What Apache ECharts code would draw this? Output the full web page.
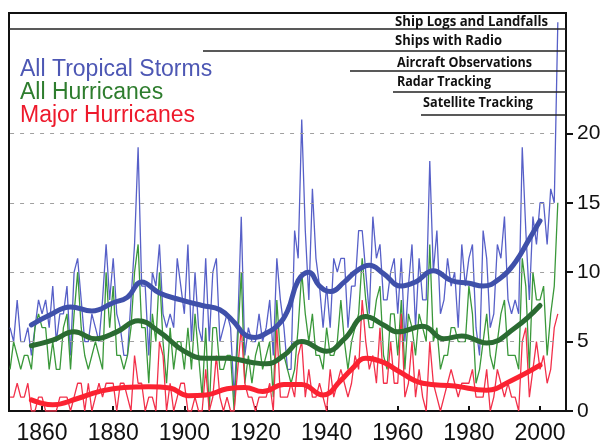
<!DOCTYPE html>
<html>
<head>
<meta charset="utf-8">
<script src="https://cdn.jsdelivr.net/npm/echarts@6/dist/echarts.min.js"></script>
<style>
  html, body { margin: 0; padding: 0; background: #fff; }
  #chart { width: 605px; height: 445px; }
</style>
</head>
<body>
<div id="chart"></div>
<script>
  // yearly counts, 1851 .. 2005
  var firstYear = 1851;
  var tropicalStorms = [
    6, 5, 8, 5, 5, 6, 4, 6, 8, 7,        // 1851-1860
    8, 6, 9, 5, 7, 7, 9, 4, 10, 11,      // 1861-1870
    8, 5, 5, 7, 6, 5, 8, 12, 8, 11,      // 1871-1880
    7, 6, 4, 4, 8, 12, 19, 9, 9, 4,      // 1881-1890
    10, 9, 12, 7, 6, 7, 6, 11, 9, 7,     // 1891-1900
    12, 5, 10, 6, 5, 11, 5, 10, 11, 5,   // 1901-1910
    6, 7, 6, 1, 6, 14, 4, 6, 5, 5,       // 1911-1920
    7, 5, 6, 8, 4, 11, 8, 6, 3, 3,       // 1921-1930
    13, 11, 21, 13, 8, 16, 11, 9, 6, 9,  // 1931-1940
    6, 11, 10, 11, 11, 6, 9, 9, 13, 13,  // 1941-1950
    10, 7, 14, 11, 12, 8, 8, 10, 11, 7,  // 1951-1960
    11, 5, 9, 12, 6, 11, 8, 8, 18, 10,   // 1961-1970
    13, 7, 8, 11, 9, 10, 6, 12, 9, 11,   // 1971-1980
    12, 6, 4, 13, 11, 6, 7, 12, 11, 14,  // 1981-1990
    8, 7, 8, 7, 19, 13, 8, 14, 12, 15,   // 1991-2000
    15, 12, 16, 15, 28                   // 2001-2005
  ];
  var hurricanes = [
    3, 5, 4, 3, 4, 4, 3, 6, 7, 6,
    6, 3, 5, 3, 3, 6, 7, 3, 7, 10,
    6, 4, 3, 4, 5, 4, 3, 10, 6, 9,
    4, 4, 3, 4, 6, 10, 12, 6, 6, 2,
    7, 5, 10, 5, 2, 6, 3, 5, 5, 3,
    6, 3, 7, 4, 1, 6, 0, 6, 6, 3,
    3, 4, 4, 0, 5, 10, 2, 4, 2, 4,
    5, 3, 4, 5, 1, 8, 4, 4, 3, 2,
    3, 6, 10, 7, 5, 7, 4, 4, 3, 6,
    4, 4, 5, 8, 5, 3, 5, 6, 7, 11,
    8, 6, 6, 8, 9, 4, 3, 7, 7, 4,
    8, 3, 7, 6, 4, 7, 6, 5, 12, 5,
    6, 3, 4, 4, 6, 6, 5, 5, 5, 9,
    7, 2, 3, 5, 7, 4, 3, 5, 7, 8,
    4, 4, 4, 3, 11, 9, 3, 10, 8, 8,
    9, 4, 7, 9, 15
  ];
  var majorHurricanes = [
    1, 1, 2, 1, 1, 2, 0, 0, 1, 1,
    0, 0, 0, 0, 1, 1, 1, 0, 1, 2,
    2, 0, 2, 0, 1, 2, 1, 2, 2, 2,
    0, 2, 2, 1, 0, 4, 2, 2, 0, 1,
    1, 0, 5, 4, 0, 2, 0, 1, 2, 2,
    0, 0, 1, 0, 0, 3, 0, 1, 4, 1,
    0, 1, 0, 0, 3, 6, 2, 1, 1, 0,
    1, 1, 1, 2, 0, 6, 1, 1, 1, 2,
    1, 4, 5, 1, 3, 1, 1, 2, 1, 0,
    3, 1, 2, 3, 2, 1, 2, 4, 3, 8,
    5, 3, 4, 2, 6, 2, 2, 5, 2, 2,
    7, 1, 2, 5, 1, 3, 1, 0, 5, 2,
    1, 0, 1, 2, 3, 2, 1, 2, 2, 2,
    3, 1, 1, 1, 3, 0, 1, 3, 2, 1,
    2, 1, 1, 0, 5, 6, 1, 3, 5, 3,
    4, 2, 3, 6, 7
  ];

  // smoothed trend curves as [year, value]
  var stormsTrend = [
    [1857, 6.2], [1862, 6.9], [1868, 7.5], [1874, 7.2], [1880, 7.8], [1884, 8.2],
    [1888, 9.3], [1893, 8.5], [1899, 8.0], [1905, 7.6], [1910, 7.3], [1914, 6.4],
    [1917, 5.5], [1920, 5.3], [1923, 5.6], [1926, 6.1], [1929, 7.2], [1932, 9.4],
    [1935, 10.0], [1938, 9.0], [1941, 8.6], [1945, 9.3], [1948, 10.0], [1952, 10.5],
    [1956, 9.9], [1961, 9.0], [1965, 9.3], [1970, 10.1], [1975, 9.4], [1980, 9.2],
    [1984, 9.0], [1989, 9.6], [1993, 10.7], [1997, 12.4], [2000, 13.7]
  ];
  var hurricanesTrend = [
    [1857, 4.7], [1863, 5.1], [1869, 5.7], [1875, 5.2], [1881, 5.7], [1887, 6.5],
    [1893, 5.7], [1900, 4.3], [1906, 3.8], [1912, 3.8], [1919, 3.5], [1923, 3.4],
    [1928, 4.0], [1933, 5.0], [1940, 4.3], [1945, 5.2], [1951, 6.8], [1956, 6.2],
    [1960, 5.7], [1967, 6.1], [1973, 5.2], [1978, 5.4], [1985, 4.9], [1993, 6.0],
    [2000, 7.6]
  ];
  var majorTrend = [
    [1857, 0.8], [1863, 0.45], [1870, 0.9], [1876, 1.4], [1883, 1.7], [1890, 1.75],
    [1896, 1.65], [1901, 1.1], [1906, 1.15], [1912, 1.6], [1917, 1.7], [1922, 1.4],
    [1928, 1.9], [1933, 1.9], [1939, 1.15], [1944, 2.2], [1947, 3.0], [1951, 3.8],
    [1956, 3.5], [1960, 2.9], [1967, 2.0], [1976, 1.8], [1985, 1.5], [1992, 2.2],
    [2000, 3.3]
  ];

  var yearTicks = [1860, 1880, 1900, 1920, 1940, 1960, 1980, 2000];
  var countTicks = [0, 5, 10, 15, 20];
  var gridLevels = [5, 10, 15, 20];

  var legendNames = ['All Tropical Storms', 'All Hurricanes', 'Major Hurricanes'];
  var eraNames = ['Ship Logs and Landfalls', 'Ships with Radio', 'Aircraft Observations',
                  'Radar Tracking', 'Satellite Tracking'];

  function byYear(arr) {
    return arr.map(function (v, i) { return [firstYear + i, v]; });
  }

  // squeeze a label to a given width (the original uses a condensed face)
  var measureCtx = document.createElement('canvas').getContext('2d');
  function squeeze(text, font, width) {
    measureCtx.font = font;
    return width / measureCtx.measureText(text).width;
  }

  var chart = echarts.init(document.getElementById('chart'), null, { renderer: 'canvas' });

  var eraFont = 'bold 15px "Open Sans"';
  var eraPos = [  // text left, text middle, rule start, rule y, text width
    [395, 22, 9, 29, 153],
    [395, 41, 203, 51, 107],
    [397, 63, 350, 71, 135],
    [397, 82, 393, 92, 94],
    [423, 103, 421, 115, 110]
  ];
  var graphics = [];
  eraNames.forEach(function (name, i) {
    var p = eraPos[i];
    graphics.push({
      type: 'line', silent: true, z: 50,
      shape: { x1: p[2], y1: p[3], x2: 566, y2: p[3] },
      style: { stroke: '#222', lineWidth: 1.3 }
    });
    graphics.push({
      type: 'text', silent: true, z: 50,
      x: p[0], y: p[1], scaleX: squeeze(name, eraFont, p[4]),
      style: {
        text: name, fill: '#111', font: eraFont,
        align: 'left', verticalAlign: 'middle'
      }
    });
  });
  var legendColors = ['#4d57b4', '#2e7d2e', '#ee1a2c'];
  var legendY = [69.5, 93, 116];
  legendNames.forEach(function (name, i) {
    graphics.push({
      type: 'text', silent: true, z: 50,
      x: 20, y: legendY[i],
      style: {
        text: name, fill: legendColors[i],
        font: '23px "Liberation Sans", Arial, sans-serif',
        align: 'left', verticalAlign: 'middle'
      }
    });
  });

  function thin(name, data, color, z) {
    return {
      name: name, type: 'line', data: byYear(data), symbol: 'none', z: z,
      lineStyle: { color: color, width: 1.3 }, itemStyle: { color: color }
    };
  }
  function trend(name, data, color, z) {
    return {
      name: name, type: 'line', data: data, symbol: 'none', smooth: 0.45, z: z,
      lineStyle: { color: color, width: 5, cap: 'round' }, itemStyle: { color: color }
    };
  }

  var stormsLine = thin('All Tropical Storms', tropicalStorms, '#5760c8', 2);
  stormsLine.markLine = {
    silent: true, symbol: ['none', 'none'], label: { show: false },
    lineStyle: { color: '#a0a0a0', type: [4, 6], width: 1 },
    data: gridLevels.map(function (v) {
      return [{ coord: [1851, v] }, { coord: [2004, v] }];
    })
  };

  var axisFont = '"Liberation Sans", Arial, sans-serif';

  chart.setOption({
    animation: false,
    backgroundColor: '#fff',
    grid: {
      left: 9, right: 39, top: 13, bottom: 32,
      show: true, borderColor: '#111', borderWidth: 2
    },
    xAxis: {
      type: 'value', min: 1850.7, max: 2007.3,
      axisLine: { show: true, onZero: false, lineStyle: { color: '#111', width: 2 } },
      axisTick: { show: true, inside: true, length: 5, customValues: yearTicks,
                  lineStyle: { color: '#111', width: 2 } },
      axisLabel: { customValues: yearTicks, margin: 11, color: '#111',
                   fontSize: 23, fontFamily: axisFont,
                   formatter: function (v) { return String(v); } },
      splitLine: { show: false }
    },
    yAxis: {
      type: 'value', position: 'right', min: 0, max: 28.67,
      axisLine: { show: true, lineStyle: { color: '#111', width: 2 } },
      axisTick: { show: true, length: 7, customValues: countTicks,
                  lineStyle: { color: '#111', width: 2 } },
      axisLabel: { customValues: countTicks, margin: 11, color: '#111',
                   fontSize: 21, fontFamily: axisFont },
      splitLine: { show: false }
    },
    graphic: graphics,
    series: [
      stormsLine,
      thin('All Hurricanes', hurricanes, '#3a983a', 3),
      thin('Major Hurricanes', majorHurricanes, '#f2304a', 4),
      trend('Storms trend', stormsTrend, '#3f50aa', 5),
      trend('Hurricanes trend', hurricanesTrend, '#2b6b32', 6),
      trend('Major trend', majorTrend, '#fb2231', 7)
    ]
  });
</script>
</body>
</html>
